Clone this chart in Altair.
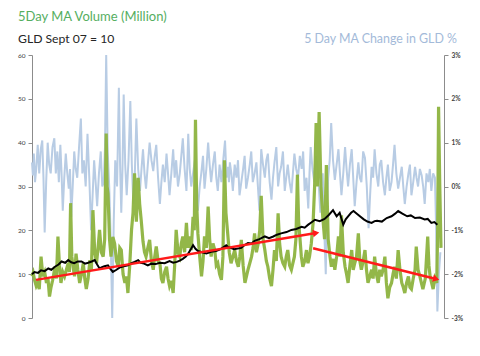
import json
import altair as alt
import pandas as pd

# ---- axis labels -------------------------------------------------------
x_tick_months = [0, 6, 12, 18, 24, 30, 36, 42, 48, 54, 60, 66]
x_tick_labels = ["Sep-07", "Mar-08", "Sep-08", "Mar-09", "Sep-09", "Mar-10",
                 "Sep-10", "Mar-11", "Sep-11", "Mar-12", "Sep-12", "Mar-13"]
left_ticks = [0, 10, 20, 30, 40, 50, 60]
right_ticks = [-3, -2, -1, 0, 1, 2, 3]

title_volume = "5Day MA Volume (Million)"
title_gld = "GLD Sept 07 = 10"
title_change = "5 Day MA Change in GLD %"

# ---- series (months since Sep-07) ---------------------------------------
blue_month = [0.0, 0.15, 0.3, 0.5, 0.7, 0.95, 1.2, 1.45, 1.7, 1.9, 2.1, 2.35, 2.6, 2.85, 3.1,
              3.4, 3.7, 3.95, 4.2, 4.45, 4.7, 4.9, 5.1, 5.35, 5.6, 5.85, 6.1, 6.3, 6.5, 6.75,
              7.0, 7.25, 7.5, 7.8, 8.1, 8.35, 8.6, 8.9, 9.2, 9.5, 9.8, 10.05, 10.3, 10.55,
              10.8, 11.1, 11.4, 11.65, 11.9, 12.1, 12.3, 12.55, 12.8, 13.05, 13.3, 13.55,
              13.8, 14.1, 14.4, 14.6, 14.8, 15.0, 15.2, 15.45, 15.7, 16.0, 16.3, 16.55,
              16.8, 17.05, 17.3, 17.6, 17.9, 18.15, 18.4, 18.65, 18.9, 19.2, 19.5, 19.8,
              20.1, 20.35, 20.6, 20.9, 21.2, 21.45, 21.7, 22.0, 22.3, 22.55, 22.8, 23.1,
              23.4, 23.65, 23.9, 24.2, 24.5, 24.75, 25.0, 25.3, 25.6, 25.75, 25.9, 26.15,
              26.4, 26.7, 27.0, 27.25, 27.5, 27.8, 28.1, 28.35, 28.6, 28.9, 29.2, 29.45,
              29.7, 30.0, 30.3, 30.55, 30.8, 31.1, 31.4, 31.7, 32.0, 32.25, 32.5, 32.65,
              32.8, 33.05, 33.3, 33.6, 33.9, 34.15, 34.4, 34.7, 35.0, 35.25, 35.5, 35.8,
              36.1, 36.35, 36.6, 36.9, 37.2, 37.45, 37.7, 37.85, 38.0, 38.3, 38.6, 38.85,
              39.1, 39.4, 39.7, 39.95, 40.2, 40.5, 40.8, 41.05, 41.3, 41.6, 41.9, 42.15,
              42.4, 42.7, 43.0, 43.25, 43.5, 43.8, 44.1, 44.4, 44.7, 44.95, 45.2, 45.5,
              45.8, 46.0, 46.2, 46.5, 46.8, 47.05, 47.3, 47.55, 47.8, 48.0, 48.2, 48.45,
              48.7, 48.9, 49.1, 49.35, 49.6, 49.9, 50.2, 50.5, 50.8, 51.05, 51.3, 51.6,
              51.9, 52.15, 52.4, 52.7, 53.0, 53.25, 53.5, 53.8, 54.1, 54.35, 54.6, 54.9,
              55.2, 55.5, 55.8, 56.05, 56.3, 56.55, 56.8, 57.1, 57.4, 57.65, 57.9, 58.2,
              58.5, 58.75, 59.0, 59.3, 59.6, 59.85, 60.1, 60.4, 60.7, 61.0, 61.3, 61.55,
              61.8, 62.1, 62.4, 62.65, 62.9, 63.2, 63.5, 63.75, 64.0, 64.3, 64.6, 64.85,
              65.1, 65.4, 65.7, 65.95, 66.2, 66.5, 66.8, 67.0, 67.2, 67.45, 67.7]
blue_pct = [0.55, 0.25, 0.75, 0.1, 0.4, 0.95, 0.3, 0.85, 1.05, 0.2, -1.05, 0.1, 1.0, 0.5, 0.3,
            0.9, 1.1, 0.3, 0.8, 0.1, 0.95, 0.3, -0.55, 0.2, 0.75, 0.3, -0.05, 0.4, -0.7, 0.0,
            0.8, 0.4, 0.2, 0.9, 1.55, 0.3, 0.6, 0.0, 1.2, 0.2, -1.0, -0.2, 0.6, 0.1,
            -0.45, 0.3, 0.8, 0.0, 0.1, 0.9, 3.0, 0.8, 0.0, -1.2, -3.0, -0.8,
            0.6, 0.0, 2.25, 0.5, -0.6, 0.4, 2.1, 0.5, -0.2, 0.6, 1.95, 0.5,
            -0.4, 0.3, 1.55, 0.4, -0.1, 0.4, 0.85, 0.3, -0.05, 0.5, 1.0, 0.6,
            0.35, 0.7, 0.95, 0.2, -0.4, 0.1, 0.5, 0.1, 0.75, 0.3, -0.2, 0.3,
            0.85, 0.2, 0.6, 0.0, 0.3, 0.7, 1.1, 0.4, -0.1, 0.5, 1.2, 0.4,
            0.0, 0.3, 0.6, 0.1, -0.55, 0.0, 0.35, 0.7, -0.05, 0.4, 1.0, 0.5,
            0.1, 0.5, 0.8, 0.2, -0.1, 0.5, 0.1, 0.6, 1.05, 0.2, 0.45, 0.1,
            0.55, 0.3, -0.1, 0.5, 0.2, 0.6, -0.2, 0.1, 0.4, 0.7, -0.05, 0.2,
            0.5, 0.8, 0.1, 0.3, 0.55, 0.0, -0.55, 0.2, 0.85, 0.5, 0.2, 0.6,
            0.75, 0.1, -0.3, 0.2, 0.55, 0.9, 0.0, 0.3, 0.45, 0.8, -0.1, 0.2,
            0.5, 0.1, -0.15, 0.3, 0.75, 0.4, 0.2, 0.7, 0.4, 0.8, -0.1, 0.2,
            -0.5, 0.3, 0.9, 0.4, 0.1, 0.7, 0.5, 0.0, -0.6, 0.1, 0.3, -1.0,
            -2.0, -0.5, 0.2, 0.6, 1.45, 0.6, 0.15, 0.5, 0.85, 0.3, -0.2, 0.3,
            0.9, 0.4, 0.0, 0.5, 0.85, 0.2, -0.45, 0.1, 0.55, 0.2, 0.1, 0.8,
            0.65, 0.0, -0.95, -0.2, 0.45, 0.2, 0.85, 0.3, 0.0, 0.5, 0.6, 0.1,
            -0.2, 0.2, 0.5, -0.1, 0.1, 0.5, 0.95, 0.3, -0.05, 0.2, 0.45, 0.0,
            -0.4, 0.0, 0.3, 0.5, -0.2, 0.1, 0.45, 0.2, 0.0, 0.4, 0.25, 0.0,
            -0.4, 0.3, 0.1, 0.4, -0.1, 0.3, 0.2, -1.0, -2.85, -2.0, -1.5]

green_month = [0.0, 0.2, 0.45, 0.7, 0.95, 1.2, 1.5, 1.8, 2.1, 2.4, 2.65, 2.9, 3.15, 3.4, 3.6,
               3.8, 4.05, 4.3, 4.55, 4.8, 5.1, 5.4, 5.7, 6.0, 6.2, 6.4, 6.6, 6.8, 7.05, 7.3,
               7.6, 7.9, 8.2, 8.5, 8.75, 9.0, 9.3, 9.6, 9.85, 10.1, 10.4, 10.7, 10.95, 11.2,
               11.5, 11.8, 12.05, 12.3, 12.45, 12.6, 12.85, 13.1, 13.4, 13.7, 14.0, 14.3,
               14.55, 14.8, 15.1, 15.4, 15.65, 15.9, 16.2, 16.5, 16.75, 17.0, 17.3, 17.6,
               17.85, 18.1, 18.4, 18.65, 18.9, 19.2, 19.5, 19.8, 20.1, 20.35, 20.6, 20.9,
               21.2, 21.45, 21.7, 22.0, 22.3, 22.55, 22.8, 23.1, 23.4, 23.65, 23.9, 24.2,
               24.5, 24.75, 25.0, 25.3, 25.6, 25.85, 26.1, 26.4, 26.7, 26.9, 27.1, 27.3,
               27.5, 27.8, 28.1, 28.35, 28.6, 28.9, 29.2, 29.45, 29.7, 30.0, 30.3, 30.55,
               30.8, 31.1, 31.4, 31.65, 31.9, 32.15, 32.4, 32.7, 33.0, 33.3, 33.6, 33.9,
               34.2, 34.45, 34.7, 35.0, 35.3, 35.55, 35.8, 36.1, 36.4, 36.65, 36.9, 37.2,
               37.5, 37.75, 38.0, 38.3, 38.6, 38.85, 39.1, 39.4, 39.7, 39.95, 40.2, 40.5,
               40.8, 41.05, 41.3, 41.6, 41.9, 42.15, 42.4, 42.7, 43.0, 43.25, 43.5, 43.75,
               44.0, 44.2, 44.4, 44.65, 44.9, 45.2, 45.5, 45.75, 46.0, 46.3, 46.6, 46.85,
               47.1, 47.3, 47.6, 47.9, 48.2, 48.5, 48.8, 49.1, 49.4, 49.6, 49.8, 50.0,
               50.2, 50.5, 50.8, 51.05, 51.3, 51.6, 51.9, 52.15, 52.4, 52.7, 53.0, 53.25,
               53.5, 53.8, 54.1, 54.35, 54.6, 54.9, 55.2, 55.45, 55.7, 56.0, 56.3, 56.55,
               56.8, 57.1, 57.4, 57.65, 57.9, 58.2, 58.5, 58.75, 59.0, 59.3, 59.6, 59.85,
               60.1, 60.4, 60.7, 61.0, 61.3, 61.55, 61.8, 62.1, 62.4, 62.65, 62.9, 63.2,
               63.5, 63.7, 64.0, 64.3, 64.55, 64.8, 65.2, 65.6, 65.8, 66.0, 66.25, 66.5,
               66.8, 67.1, 67.25, 67.4, 67.6, 67.8]
green_vol = [9.5, 10.3, 8.5, 7.3, 8.0, 6.6, 14.0, 9.5, 10.5, 8.0, 9.0, 4.9, 7.0, 8.5, 10.0,
             11.7, 9.0, 18.6, 12.0, 8.0, 10.5, 9.5, 11.0, 12.5, 10.5, 26.2, 14.0, 11.7, 9.5, 14.7,
             11.0, 8.0, 10.0, 12.5, 9.0, 6.6, 9.0, 13.2, 11.0, 24.6, 15.0, 12.5, 16.0, 20.1,
             15.0, 14.0, 18.0, 42.1, 30.0, 28.4, 18.0, 14.0, 18.5, 17.0, 13.0, 11.7,
             16.0, 15.5, 10.0, 8.0, 9.5, 5.7, 12.0, 20.1, 24.0, 33.0, 22.0, 32.0,
             26.0, 22.4, 17.5, 15.0, 14.0, 16.0, 17.8, 13.0, 11.0, 14.0, 16.3, 13.0,
             12.5, 9.0, 8.0, 10.5, 11.7, 9.0, 7.3, 8.5, 5.7, 12.0, 20.1, 15.0,
             14.0, 17.0, 18.6, 15.0, 21.7, 16.0, 18.6, 15.5, 23.1, 20.0, 45.2, 26.0,
             19.3, 14.0, 9.5, 13.0, 18.6, 16.0, 25.4, 18.0, 14.0, 17.0, 15.5, 12.0,
             12.5, 10.0, 8.7, 14.0, 36.0, 24.0, 20.0, 15.0, 12.5, 14.0, 15.5, 13.0,
             11.7, 14.0, 17.8, 12.0, 8.0, 9.5, 11.0, 12.5, 14.0, 16.0, 19.3, 15.0,
             17.0, 20.0, 27.9, 18.0, 15.5, 13.0, 11.7, 9.0, 7.3, 11.0, 15.5, 13.0,
             23.9, 17.0, 14.0, 12.5, 11.7, 14.0, 15.5, 12.0, 11.0, 12.5, 14.0, 18.0,
             32.7, 22.0, 18.6, 14.0, 11.7, 13.0, 15.5, 12.5, 14.0, 17.0, 21.7, 30.0,
             44.5, 30.0, 47.0, 30.0, 23.1, 18.0, 34.9, 18.0, 14.0, 12.0, 12.0, 13.5,
             11.0, 14.0, 18.6, 14.0, 23.4, 15.0, 11.7, 10.0, 8.0, 12.0, 15.5, 11.0,
             12.5, 14.0, 19.3, 13.0, 11.0, 13.0, 15.5, 11.0, 8.0, 9.5, 11.0, 9.0,
             14.0, 10.0, 8.0, 11.0, 9.5, 11.0, 14.0, 8.0, 4.5, 7.0, 8.0, 10.0,
             11.7, 9.0, 15.5, 11.0, 8.0, 7.0, 5.7, 8.0, 9.5, 7.0, 6.6, 9.0,
             11.0, 16.3, 11.0, 9.5, 8.0, 6.6, 9.0, 18.6, 12.0, 9.5, 8.0, 6.6,
             9.0, 8.0, 20.0, 48.2, 30.0, 16.0]

black_month = [0.0, 0.4, 1.0, 1.5, 2.1, 2.7, 3.2, 3.8, 4.4, 4.9, 5.5, 6.0, 6.5, 7.0, 7.6, 8.2,
               8.8, 9.3, 9.9, 10.4, 10.8, 11.2, 11.6, 12.0, 12.6, 13.0, 13.4, 14.0, 14.5,
               15.2, 15.9, 16.5, 17.0, 17.6, 18.0, 18.4, 19.2, 19.8, 20.5, 21.2, 22.0,
               22.8, 23.4, 24.0, 24.5, 25.0, 25.5, 25.9, 26.3, 26.7, 27.1, 27.5, 28.2,
               28.9, 29.7, 30.5, 31.3, 32.2, 32.5, 33.5, 34.7, 35.2, 35.8, 36.4, 36.9,
               37.7, 38.6, 39.3, 40.0, 40.6, 41.3, 42.2, 43.0, 43.8, 44.7, 45.2, 45.8,
               46.3, 46.9, 47.7, 48.5, 49.2, 49.9, 50.5, 51.0, 51.6, 52.0, 52.4, 52.9,
               53.3, 54.0, 55.0, 55.6, 56.3, 56.8, 57.2, 58.0, 58.8, 59.6, 60.2, 60.7,
               61.4, 62.2, 62.8, 63.5, 64.3, 65.1, 65.6, 66.2, 66.7, 67.2]
black_gld = [10.0, 10.5, 10.3, 10.9, 10.7, 11.3, 11.0, 11.7, 12.2, 12.9, 12.6, 13.2, 12.7, 12.5,
             12.9, 12.9, 12.4, 12.6, 12.9, 13.2, 12.2, 11.3, 11.6, 11.8, 12.0, 11.2, 10.5,
             11.0, 11.5, 11.8, 12.0, 12.5, 12.8, 13.2, 12.6, 12.5, 12.0, 12.4, 12.3,
             12.6, 12.5, 13.0, 12.6, 12.8, 13.1, 13.5, 14.0, 14.7, 15.6, 16.6, 15.8,
             15.3, 15.0, 14.7, 15.1, 15.3, 15.7, 16.6, 16.2, 15.7, 16.0, 16.6, 17.1,
             17.0, 17.6, 18.0, 18.6, 18.2, 18.6, 19.0, 19.3, 19.6, 20.1, 20.3, 20.8,
             20.6, 21.3, 21.8, 22.4, 22.1, 22.6, 23.5, 24.6, 23.2, 24.0, 21.3, 22.5,
             23.2, 24.0, 24.4, 23.6, 22.5, 22.0, 21.7, 22.1, 22.2, 22.0, 22.8, 23.2,
             23.8, 24.4, 23.8, 23.2, 23.4, 22.8, 22.9, 22.5, 22.6, 21.7, 21.9, 21.3]

arrow_up_month = [0.66, 47.1]
arrow_up_value = [8.7, 19.4]
arrow_down_month = [46.6, 67.0]
arrow_down_value = [15.9, 8.9]

# ---- styling ------------------------------------------------------------
FONT = "Lato"
AX_COL = "#8c8c8c"
LAB_COL = "#404040"
BLUE = "#b8cce4"
GREEN = "#8db33f"
RED = "#ff1a1a"

label_js = json.dumps(x_tick_labels)
x_scale = alt.Scale(domain=[0, 68.3], nice=False, zero=False)
x_axis = alt.Axis(values=x_tick_months, labelExpr=f"{label_js}[round(datum.value/6)]",
                  title=None, grid=False, domainColor=AX_COL, tickColor=AX_COL,
                  tickSize=4, labelFontSize=6.5, labelColor=LAB_COL, labelFont=FONT,
                  labelPadding=5)
x_enc = alt.X("m:Q", scale=x_scale, axis=x_axis)
x_enc_noaxis = alt.X("m:Q", scale=x_scale, axis=None)

left_scale = alt.Scale(domain=[0, 60], nice=False, zero=False)
left_axis = alt.Axis(values=left_ticks, orient="left", title=None, grid=False,
                     domainColor=AX_COL, tickColor=AX_COL, tickSize=4,
                     labelFontSize=6.5, labelColor=LAB_COL, labelFont=FONT, labelPadding=3)
right_scale = alt.Scale(domain=[-3, 3], nice=False, zero=False)
right_axis = alt.Axis(values=right_ticks, orient="right", title=None, grid=False,
                      labelExpr="datum.value + '%'", domainColor=AX_COL, tickColor=AX_COL,
                      tickSize=4, labelFontSize=6.5, labelColor=LAB_COL, labelFont=FONT,
                      labelFontWeight="bold", labelPadding=3)

blue_df = pd.DataFrame({"m": blue_month, "v": blue_pct})
green_df = pd.DataFrame({"m": green_month, "v": green_vol})
black_df = pd.DataFrame({"m": black_month, "v": black_gld})
a1_df = pd.DataFrame({"m": arrow_up_month, "v": arrow_up_value})
a2_df = pd.DataFrame({"m": arrow_down_month, "v": arrow_down_value})

blue = alt.Chart(blue_df).mark_line(color=BLUE, strokeWidth=2.0).encode(
    x=x_enc, y=alt.Y("v:Q", scale=right_scale, axis=right_axis))

green = alt.Chart(green_df).mark_line(color=GREEN, strokeWidth=3.2, opacity=0.95).encode(
    x=x_enc_noaxis, y=alt.Y("v:Q", scale=left_scale, axis=left_axis))

black = alt.Chart(black_df).mark_line(color="#000000", strokeWidth=2).encode(
    x=x_enc_noaxis, y=alt.Y("v:Q", scale=left_scale, axis=None))

arrow1 = alt.Chart(a1_df).mark_line(color=RED, strokeWidth=2.5).encode(
    x=x_enc_noaxis, y=alt.Y("v:Q", scale=left_scale, axis=None))
arrow2 = alt.Chart(a2_df).mark_line(color=RED, strokeWidth=2.5).encode(
    x=x_enc_noaxis, y=alt.Y("v:Q", scale=left_scale, axis=None))
head1 = alt.Chart(a1_df.tail(1)).mark_point(shape="triangle-right", filled=True, size=55,
                                             color=RED, opacity=1, angle=350).encode(
    x=x_enc_noaxis, y=alt.Y("v:Q", scale=left_scale, axis=None))
head2 = alt.Chart(a2_df.tail(1)).mark_point(shape="triangle-right", filled=True, size=55,
                                             color=RED, opacity=1, angle=14).encode(
    x=x_enc_noaxis, y=alt.Y("v:Q", scale=left_scale, axis=None))

t1 = alt.Chart(pd.DataFrame({"t": [title_volume]})).mark_text(
    align="left", baseline="alphabetic", font=FONT, fontSize=13, fontWeight="normal",
    color="#55ae5f").encode(x=alt.value(-14), y=alt.value(-34), text="t:N")
t2 = alt.Chart(pd.DataFrame({"t": [title_gld]})).mark_text(
    align="left", baseline="alphabetic", font=FONT, fontSize=12.2, fontWeight="normal",
    color="#262626").encode(x=alt.value(-14), y=alt.value(-12), text="t:N")
t3 = alt.Chart(pd.DataFrame({"t": [title_change]})).mark_text(
    align="right", baseline="alphabetic", font=FONT, fontSize=12.4, fontWeight="normal",
    color="#a3bad9").encode(x=alt.value(425), y=alt.value(-12), text="t:N")

chart = alt.layer(blue, green, black, arrow1, arrow2, head1, head2, t1, t2, t3).resolve_scale(
    y="independent").properties(
    width=412, height=263,
    autosize=alt.AutoSizeParams(type="none"),
    padding={"left": 24, "top": 47, "right": 28, "bottom": 30},
    background="white",
).configure_view(stroke=None)

chart.save("out.html", embed_options={"renderer": "svg", "actions": False})
